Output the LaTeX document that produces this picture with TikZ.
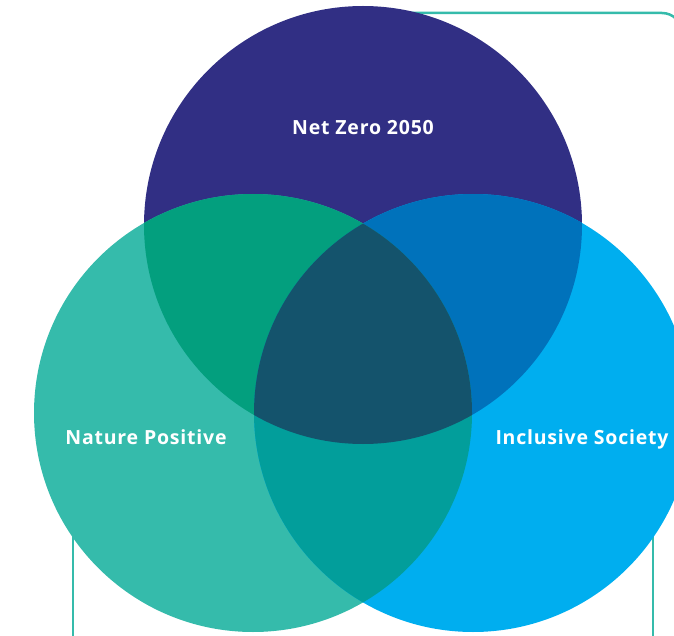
\documentclass[tikz,border=0pt]{standalone}
\usepackage{fontspec}
\setmainfont{Open Sans}[LetterSpace=4]
\usepackage{tikz}
\usetikzlibrary{positioning}
\definecolor{netzero}{RGB}{49,47,132}
\definecolor{nature}{RGB}{53,187,171}
\definecolor{society}{RGB}{0,174,239}
\definecolor{zeronature}{RGB}{3,159,126}
\definecolor{zerosociety}{RGB}{0,114,187}
\definecolor{naturesociety}{RGB}{2,158,155}
\definecolor{allthree}{RGB}{20,83,108}

\begin{document}
\begin{tikzpicture}[x=1pt, y=-1pt,
    frameline/.style={nature, line width=2.5pt},
    venntext/.style={text=white, anchor=base, font=\bfseries\fontsize{19.5}{22}\selectfont}]
    % Bounding box (reference size)
    \useasboundingbox (0,0) rectangle (674,636);
    % Frame behind the circles
    \begin{scope}
        \clip (0,0) rectangle (674,636);
        \draw[frameline, rounded corners=20pt] (400,13) -- (682,13) -- (682,80);
        \draw[frameline] (73,400) -- (73,640);
        \draw[frameline] (653,400) -- (653,640);
    \end{scope}
    % Circle centres
    \coordinate (zeroc)    at (363,225);
    \coordinate (naturec)  at (253,413);
    \coordinate (societyc) at (473,413);
    % Circles
    \fill[netzero] (zeroc) circle[radius=219pt];
    \fill[nature]  (naturec) circle[radius=219pt];
    \fill[society] (societyc) circle[radius=219pt];
    % Pairwise overlaps
    \begin{scope}
        \clip (zeroc) circle[radius=219pt];
        \fill[zeronature]  (naturec) circle[radius=219pt];
        \fill[zerosociety] (societyc) circle[radius=219pt];
    \end{scope}
    \begin{scope}
        \clip (naturec) circle[radius=219pt];
        \fill[naturesociety] (societyc) circle[radius=219pt];
        % Centre overlap
        \clip (societyc) circle[radius=219pt];
        \fill[allthree] (zeroc) circle[radius=219pt];
    \end{scope}
    % Labels
    \node[venntext] (zerotext)    at (363,135) {Net Zero 2050};
    \node[venntext] (naturetext)  at (146,444) {Nature Positive};
    \node[venntext] (societytext) at (582,444) {Inclusive Society};
\end{tikzpicture}
\end{document}
